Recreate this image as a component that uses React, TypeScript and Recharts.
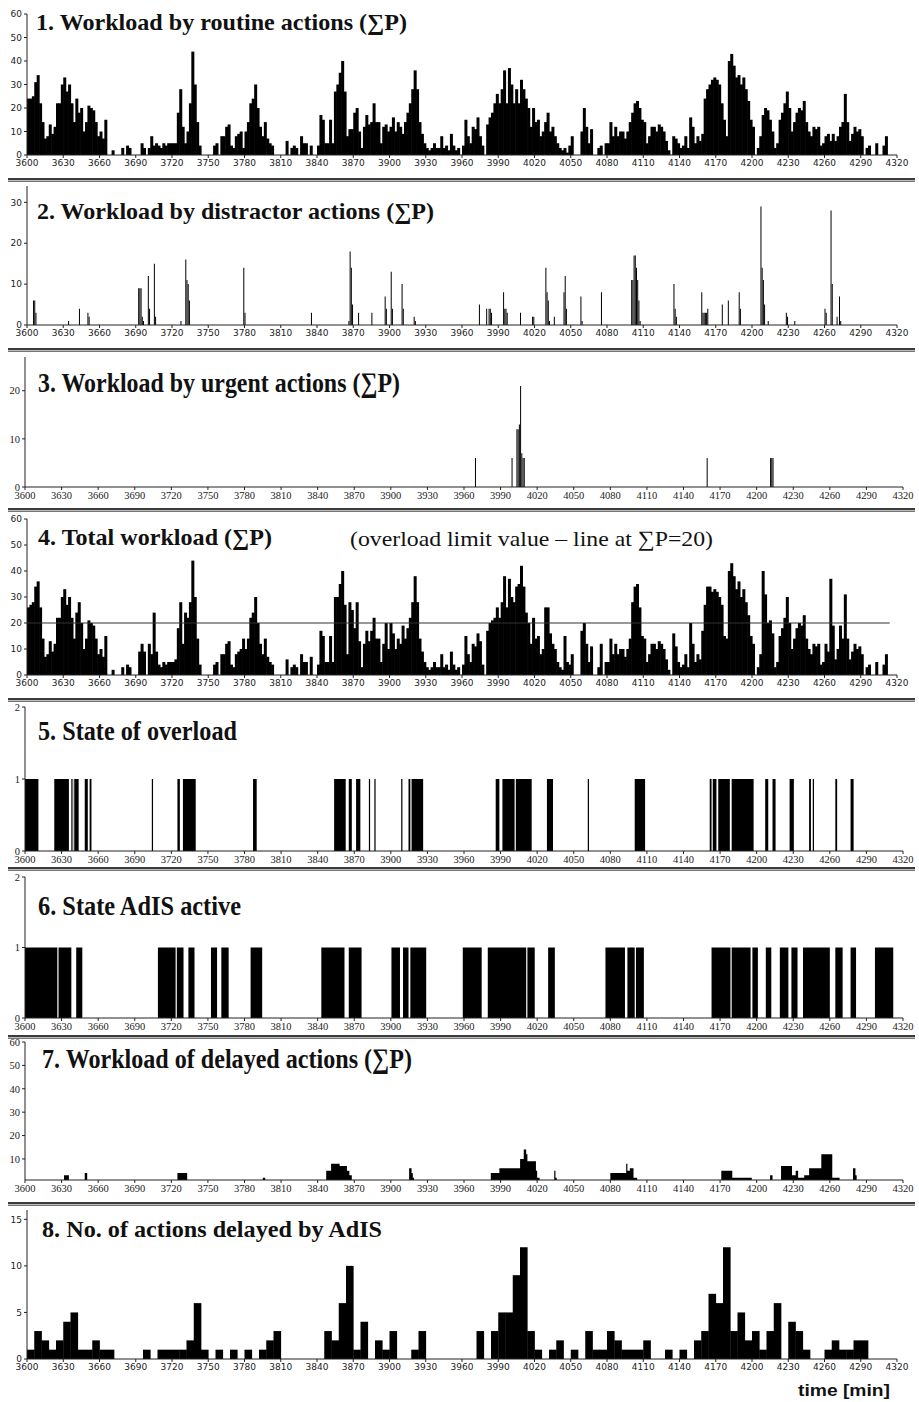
import React from "react";
import { BarChart, Bar, AreaChart, Area, XAxis, YAxis, ReferenceLine } from "recharts";

const timeTicks = [
  3600, 3630, 3660, 3690, 3720, 3750, 3780, 3810, 3840, 3870, 3900, 3930, 3960,
  3990, 4020, 4050, 4080, 4110, 4140, 4170, 4200, 4230, 4260, 4290, 4320,
];

// 1. routine workload, 2-minute bins starting at 3600
const routineLoad = [
  24, 24, 25, 31, 34, 22, 14, 7, 8, 13, 9, 12, 22, 22, 30,
  33, 27, 30, 22, 14, 24, 18, 20, 10, 14, 21, 20, 19, 14, 8,
  10, 7, 15, 0, 0, 2, 0, 0, 0, 3, 0, 4, 3, 0, 0,
  0, 0, 5, 3, 0, 3, 8, 4, 5, 4, 3, 5, 4, 5, 5,
  5, 5, 18, 28, 12, 5, 10, 22, 44, 30, 14, 4, 0, 0, 0,
  0, 0, 4, 5, 0, 8, 8, 12, 13, 4, 3, 8, 9, 10, 3,
  10, 14, 22, 24, 30, 20, 12, 8, 14, 7, 5, 4, 0, 0, 0,
  0, 0, 6, 0, 3, 4, 3, 0, 8, 5, 5, 0, 4, 0, 0,
  4, 17, 15, 5, 5, 15, 5, 27, 30, 35, 40, 27, 8, 11, 11,
  18, 20, 10, 3, 12, 17, 13, 14, 22, 14, 14, 5, 12, 13, 10,
  12, 16, 10, 14, 12, 9, 14, 18, 22, 28, 36, 28, 14, 9, 5,
  3, 2, 3, 5, 3, 3, 8, 3, 4, 2, 9, 4, 2, 3, 0,
  4, 15, 8, 5, 12, 11, 16, 8, 4, 0, 13, 16, 18, 22, 26,
  22, 28, 36, 22, 37, 30, 22, 28, 22, 32, 28, 24, 20, 12, 20,
  14, 15, 8, 10, 14, 18, 10, 12, 8, 5, 3, 2, 3, 1, 4,
  8, 0, 0, 0, 10, 20, 12, 5, 11, 0, 0, 3, 4, 0, 5,
  5, 14, 8, 12, 8, 10, 10, 7, 10, 14, 18, 22, 23, 20, 15,
  14, 5, 8, 12, 12, 10, 13, 12, 10, 6, 2, 0, 8, 7, 5,
  3, 4, 8, 3, 16, 12, 5, 8, 6, 9, 24, 28, 30, 32, 33,
  32, 30, 22, 15, 8, 40, 43, 38, 33, 34, 30, 33, 28, 23, 15,
  12, 0, 3, 8, 17, 20, 19, 15, 10, 3, 5, 15, 18, 22, 27,
  20, 10, 14, 18, 20, 19, 23, 14, 10, 8, 12, 11, 12, 4, 5,
  8, 9, 6, 9, 6, 8, 12, 14, 26, 14, 6, 9, 12, 10, 11,
  8, 0, 3, 4, 0, 0, 5, 0, 0, 4, 8, 0, 0, 0, 0,
];

// 2. distractor workload (minute, value)
const distractorTimes = [
  3605, 3606, 3607, 3634, 3643, 3650, 3651, 3692, 3693, 3694,
  3695, 3696, 3700, 3701, 3705, 3706, 3727, 3731, 3732, 3733,
  3734, 3779, 3780, 3835, 3866, 3867, 3868, 3869, 3874, 3885,
  3896, 3897, 3901, 3902, 3910, 3911, 3920, 3921, 3974, 3980,
  3982, 3983, 3984, 3994, 3995, 3996, 3997, 4008, 4018, 4019,
  4029, 4030, 4031, 4032, 4036, 4044, 4045, 4046, 4058, 4059,
  4075, 4100, 4101, 4102, 4103, 4104, 4105, 4106, 4107, 4135,
  4136, 4137, 4158, 4159, 4160, 4161, 4162, 4163, 4175, 4180,
  4189, 4190, 4207, 4208, 4209, 4210, 4213, 4228, 4229, 4235,
  4260, 4261, 4265, 4266, 4270, 4272, 4273,
];
const distractorLoad = [
  6, 6, 3, 1, 4, 3, 2, 9, 9, 9,
  2, 1, 12, 4, 15, 2, 1, 16, 11, 10,
  6, 14, 3, 3, 1, 18, 14, 5, 3, 3,
  7, 4, 13, 4, 10, 4, 2, 1, 5, 4,
  4, 4, 3, 8, 4, 4, 3, 3, 2, 2,
  14, 8, 6, 1, 2, 8, 12, 4, 7, 1,
  8, 11, 11, 17, 17, 14, 11, 6, 1, 10,
  4, 2, 8, 3, 3, 3, 3, 4, 5, 6,
  8, 4, 29, 14, 11, 5, 1, 3, 2, 1,
  4, 3, 28, 10, 2, 7, 1,
];

// 3. urgent workload (minute, value)
const urgentTimes = [3969, 3999, 4003, 4004, 4005, 4006, 4007, 4008, 4009, 4159, 4211, 4212, 4213];
const urgentLoad = [6, 6, 12, 12, 13, 21, 7, 6, 6, 6, 6, 6, 6];

// 4. total workload, 2-minute bins starting at 3600
const totalLoad = [
  26, 27, 28, 34, 36, 26, 14, 7, 8, 13, 9, 12, 22, 22, 30,
  33, 27, 30, 22, 14, 24, 28, 20, 10, 14, 21, 20, 19, 14, 8,
  10, 7, 15, 0, 0, 2, 0, 0, 0, 3, 0, 4, 3, 0, 0,
  0, 9, 12, 9, 0, 12, 8, 24, 9, 4, 3, 5, 4, 5, 5,
  5, 6, 18, 28, 12, 24, 22, 28, 44, 30, 14, 4, 0, 0, 0,
  0, 0, 4, 5, 0, 8, 8, 12, 13, 4, 3, 8, 9, 10, 14,
  10, 14, 22, 24, 30, 20, 12, 8, 14, 7, 5, 4, 0, 0, 0,
  0, 0, 6, 0, 3, 4, 3, 0, 8, 5, 5, 0, 7, 0, 0,
  4, 17, 15, 5, 5, 15, 5, 30, 30, 35, 40, 27, 8, 28, 25,
  18, 28, 13, 3, 12, 17, 13, 17, 22, 14, 14, 5, 12, 20, 10,
  20, 16, 10, 14, 12, 19, 14, 18, 22, 28, 38, 28, 14, 9, 5,
  3, 2, 3, 5, 3, 3, 8, 3, 4, 2, 9, 4, 2, 3, 0,
  4, 15, 8, 5, 12, 11, 16, 13, 4, 0, 17, 20, 21, 22, 26,
  22, 28, 38, 26, 37, 30, 28, 34, 35, 42, 34, 24, 20, 12, 22,
  14, 15, 8, 10, 26, 26, 16, 12, 10, 5, 3, 2, 15, 5, 4,
  8, 0, 0, 0, 17, 20, 12, 5, 11, 0, 0, 3, 12, 0, 5,
  5, 14, 8, 12, 8, 10, 10, 7, 10, 14, 28, 34, 35, 26, 15,
  14, 5, 8, 12, 12, 10, 13, 12, 10, 6, 2, 0, 16, 11, 5,
  3, 4, 8, 3, 20, 12, 5, 8, 6, 17, 27, 34, 34, 32, 33,
  32, 30, 27, 15, 14, 40, 43, 38, 33, 36, 30, 33, 28, 23, 15,
  12, 0, 3, 8, 40, 31, 20, 21, 16, 3, 5, 15, 18, 22, 30,
  20, 10, 14, 18, 20, 19, 23, 14, 10, 8, 12, 11, 12, 4, 5,
  12, 9, 37, 19, 6, 10, 19, 14, 31, 14, 6, 9, 12, 10, 11,
  8, 0, 3, 4, 0, 0, 5, 0, 0, 4, 8, 0, 0, 0, 0,
];
const overloadLimit = 20;

// 5. state of overload: intervals where state = 1
const overloadOn = [
  3600, 3624, 3638, 3640, 3641, 3649, 3653, 3704, 3725, 3729.5, 3787, 3853.5,
  3865.5, 3871.5, 3882, 3886.5, 3908.5, 3914.5, 3917, 3986, 3991.5, 4002.5, 4028, 4061.5,
  4100, 4161.5, 4164, 4168.5, 4179.5, 4207, 4213, 4227, 4243, 4246, 4264.5, 4277,
];
const overloadOff = [
  3611, 3636, 3639, 3640.8, 3644, 3651.5, 3654.5, 3705, 3727, 3740, 3790, 3863,
  3868, 3875, 3883, 3887.5, 3909.5, 3916, 3926.5, 3989, 4001.5, 4015.5, 4033, 4062.5,
  4108.5, 4163, 4167, 4178, 4197.5, 4209.5, 4215.5, 4230.5, 4244.5, 4247, 4266, 4279.5,
];

// 6. state AdIS active: intervals where state = 1
const adisOn = [
  3600, 3627.5, 3642, 3709, 3724.5, 3734, 3752.5, 3761, 3785, 3843, 3865.5, 3900.5, 3910, 3916,
  3959, 3979.5, 4012, 4029, 4076, 4094, 4101, 4163, 4179.5, 4196.5, 4207.5, 4219, 4228.5, 4238,
  4264.5, 4277, 4297,
];
const adisOff = [
  3626.5, 3638, 3647, 3723.5, 3730, 3739, 3757.5, 3767, 3794.5, 3862, 3876, 3907.5, 3914.5, 3929,
  3974.5, 4011, 4018, 4034.5, 4092, 4100, 4107.5, 4178.5, 4195, 4201, 4212, 4226, 4233.5, 4260,
  4270.5, 4281.5, 4312,
];

// 7. workload of delayed actions: value holds from each time until the next
const delayedTimes = [
  3600, 3632, 3636, 3649, 3651, 3725, 3733, 3795, 3797, 3847, 3851, 3858, 3864, 3866, 3868,
  3915, 3917, 3918, 3919, 3975, 3977, 3982, 3989, 4006, 4009, 4011, 4012, 4019, 4020, 4022,
  4034, 4035, 4036, 4080, 4093, 4094, 4096, 4099, 4102, 4171, 4180, 4196, 4211, 4213, 4220,
  4229, 4232, 4234, 4239, 4243, 4253, 4262, 4268, 4279, 4281, 4282, 4320,
];
const delayedLoad = [
  0, 3, 0, 4, 0, 4, 0, 2, 0, 5, 8, 7, 5, 3, 0,
  6, 4, 2, 0, 1, 0, 4, 6, 10, 14, 12, 9, 5, 2, 0,
  5, 2, 0, 4, 8, 5, 6, 2, 0, 5, 2, 0, 3, 0, 7,
  3, 5, 2, 3, 6, 12, 2, 0, 6, 3, 0, 0,
];

// 8. number of actions delayed by AdIS, 6-minute bins starting at 3600
const delayedCount = [
  1, 3, 2, 1, 2, 4, 5, 1, 1, 2, 1, 1, 0, 0, 0, 0, 1, 0, 1, 1,
  1, 1, 2, 6, 1, 0, 1, 0, 1, 0, 1, 0, 1, 2, 3, 0, 0, 0, 0, 0,
  0, 3, 2, 6, 10, 1, 4, 0, 2, 1, 3, 0, 0, 1, 3, 0, 0, 0, 0, 0,
  0, 0, 3, 0, 3, 5, 5, 9, 12, 3, 1, 0, 1, 2, 0, 1, 0, 3, 1, 1,
  3, 2, 1, 1, 1, 2, 0, 0, 1, 0, 1, 0, 2, 3, 7, 6, 12, 3, 5, 2,
  3, 1, 3, 6, 0, 4, 3, 1, 0, 0, 1, 2, 1, 1, 2, 2, 0, 0, 0, 0,
];

const binRows = (values: number[], width: number) =>
  values.map((v, i) => ({ t: 3600 + i * width + width / 2, v }));
const spikeRows = (times: number[], values: number[]) =>
  times.map((t, i) => ({ t: t + 0.5, v: values[i] }));
const stateRows = (on: number[], off: number[]) => {
  const rows = [{ t: 3600, v: 0 }];
  on.forEach((s, i) => {
    rows.push({ t: s, v: 1 });
    rows.push({ t: off[i], v: 0 });
  });
  rows.push({ t: 4320, v: 0 });
  return rows;
};
const stepRows = (times: number[], values: number[]) => times.map((t, i) => ({ t, v: values[i] }));

const serifFont = "'Liberation Serif', 'DejaVu Serif', serif";
const sansFont = "'DejaVu Sans', sans-serif";
const W = 919;

// recharts floors bar widths to whole pixels; widen slightly so adjacent bins touch
const solidBar = (extra: number) => (props: any) => {
  const { x, y, width, height } = props;
  if (!height || height <= 0) return <g />;
  return <rect x={x} y={y} width={width + extra} height={height} fill="#000" />;
};

const xAxisFor = (serif: boolean) => (
  <XAxis
    dataKey="t"
    type="number"
    domain={[3600, 4320]}
    ticks={timeTicks}
    interval={0}
    allowDataOverflow
    height={22}
    tickSize={3}
    axisLine={{ stroke: "#222" }}
    tickLine={{ stroke: "#222" }}
    tick={{ fontSize: serif ? 10.5 : 9, fill: "#222", fontFamily: serif ? serifFont : sansFont }}
  />
);

const yAxisFor = (domain: number[], ticks: number[], serif: boolean) => (
  <YAxis
    type="number"
    domain={domain}
    ticks={ticks}
    interval={0}
    allowDataOverflow
    width={serif ? 25 : 27}
    tickSize={3}
    axisLine={{ stroke: "#222" }}
    tickLine={{ stroke: "#222" }}
    tick={{ fontSize: serif ? 10.5 : 9, fill: "#222", fontFamily: serif ? serifFont : sansFont }}
  />
);

const Separator = ({ y }: { y: number }) => (
  <div
    style={{
      position: "absolute",
      left: 8,
      top: y,
      width: 907,
      height: 1,
      background: "#bbb",
      borderTop: "2px solid #3c3c3c",
      borderBottom: "1px solid #777",
    }}
  />
);

const at = (top: number, node: React.ReactNode) => (
  <div style={{ position: "absolute", left: 0, top }}>{node}</div>
);

export default function App() {
  const sansMargin = { top: 6, right: 22, bottom: 0, left: 0 };
  const serifMargin = { top: 6, right: 16, bottom: 0, left: 0 };

  return (
    <div style={{ position: "absolute", left: 0, top: 0, width: W, height: 1402, background: "#fff" }}>
      {at(
        8,
        <BarChart width={W} height={169} data={binRows(routineLoad, 2)} margin={sansMargin} barGap={0} barCategoryGap={0}>
          {xAxisFor(false)}
          {yAxisFor([0, 60], [0, 10, 20, 30, 40, 50, 60], false)}
          <Bar dataKey="v" fill="#000" shape={solidBar(1)} isAnimationActive={false} />
        </BarChart>
      )}
      {at(
        180,
        <BarChart width={W} height={167} data={spikeRows(distractorTimes, distractorLoad)} margin={sansMargin} barGap={0} barCategoryGap={0}>
          {xAxisFor(false)}
          {yAxisFor([0, 34], [0, 10, 20, 30], false)}
          <Bar dataKey="v" fill="#000" isAnimationActive={false} />
        </BarChart>
      )}
      {at(
        351,
        <BarChart width={W} height={158} data={spikeRows(urgentTimes, urgentLoad)} margin={serifMargin} barGap={0} barCategoryGap={0}>
          {xAxisFor(true)}
          {yAxisFor([0, 27], [0, 10, 20], true)}
          <Bar dataKey="v" fill="#000" isAnimationActive={false} />
        </BarChart>
      )}
      {at(
        513,
        <BarChart width={W} height={184} data={binRows(totalLoad, 2)} margin={sansMargin} barGap={0} barCategoryGap={0}>
          {xAxisFor(false)}
          {yAxisFor([0, 60], [0, 10, 20, 30, 40, 50, 60], false)}
          <Bar dataKey="v" fill="#000" shape={solidBar(1)} isAnimationActive={false} />
          <ReferenceLine
            segment={[{ x: 3600, y: overloadLimit }, { x: 4314, y: overloadLimit }]}
            stroke="#333"
            strokeWidth={1}
          />
        </BarChart>
      )}
      {at(
        701,
        <AreaChart width={W} height={172} data={stateRows(overloadOn, overloadOff)} margin={serifMargin}>
          {xAxisFor(true)}
          {yAxisFor([0, 2], [0, 1, 2], true)}
          <Area type="stepAfter" dataKey="v" stroke="none" fill="#000" fillOpacity={1} isAnimationActive={false} />
        </AreaChart>
      )}
      {at(
        871,
        <AreaChart width={W} height={169} data={stateRows(adisOn, adisOff)} margin={serifMargin}>
          {xAxisFor(true)}
          {yAxisFor([0, 2], [0, 1, 2], true)}
          <Area type="stepAfter" dataKey="v" stroke="none" fill="#000" fillOpacity={1} isAnimationActive={false} />
        </AreaChart>
      )}
      {at(
        1036,
        <AreaChart width={W} height={166} data={stepRows(delayedTimes, delayedLoad)} margin={serifMargin}>
          {xAxisFor(true)}
          {yAxisFor([1, 60], [10, 20, 30, 40, 50, 60], true)}
          <Area type="stepAfter" dataKey="v" stroke="none" fill="#000" fillOpacity={1} baseValue={1} isAnimationActive={false} />
        </AreaChart>
      )}
      {at(
        1204,
        <BarChart width={W} height={177} data={binRows(delayedCount, 6)} margin={sansMargin} barGap={0} barCategoryGap={0}>
          {xAxisFor(false)}
          {yAxisFor([0, 16], [0, 5, 10, 15], false)}
          <Bar dataKey="v" fill="#000" shape={solidBar(0.6)} isAnimationActive={false} />
        </BarChart>
      )}

      <Separator y={178} />
      <Separator y={348} />
      <Separator y={508} />
      <Separator y={698} />
      <Separator y={867} />
      <Separator y={1035} />
      <Separator y={1202} />

      <svg width={W} height={1402} style={{ position: "absolute", left: 0, top: 0, pointerEvents: "none" }}>
        <g fontFamily={serifFont} fontWeight="bold" fill="#111" style={{ whiteSpace: "pre" }}>
          <text x={36} y={30} fontSize={23} textLength={371} lengthAdjust="spacingAndGlyphs">
            1.  Workload by routine actions (∑P)
          </text>
          <text x={37} y={219} fontSize={23} textLength={397} lengthAdjust="spacingAndGlyphs">
            2.  Workload by distractor actions (∑P)
          </text>
          <text x={38} y={392} fontSize={28} textLength={362} lengthAdjust="spacingAndGlyphs">
            3.  Workload by urgent actions (∑P)
          </text>
          <text x={38} y={545} fontSize={23} textLength={234} lengthAdjust="spacingAndGlyphs">
            4.  Total workload (∑P)
          </text>
          <text x={38} y={740} fontSize={28} textLength={199} lengthAdjust="spacingAndGlyphs">
            5.  State of overload
          </text>
          <text x={38} y={915} fontSize={28} textLength={203} lengthAdjust="spacingAndGlyphs">
            6.  State AdIS active
          </text>
          <text x={42} y={1068} fontSize={28} textLength={370} lengthAdjust="spacingAndGlyphs">
            7.  Workload of delayed actions (∑P)
          </text>
          <text x={42} y={1237} fontSize={23} textLength={340} lengthAdjust="spacingAndGlyphs">
            8.  No. of actions delayed by AdIS
          </text>
        </g>
        <text
          x={350}
          y={546}
          fontFamily={serifFont}
          fontSize={22}
          fill="#111"
          textLength={363}
          lengthAdjust="spacingAndGlyphs"
        >
          (overload limit value – line at ∑P=20)
        </text>
        <text
          x={798}
          y={1396}
          fontFamily="'Liberation Sans', Arial, sans-serif"
          fontWeight="bold"
          fontSize={17}
          fill="#111"
          textLength={92}
          lengthAdjust="spacingAndGlyphs"
        >
          time [min]
        </text>
      </svg>
    </div>
  );
}
